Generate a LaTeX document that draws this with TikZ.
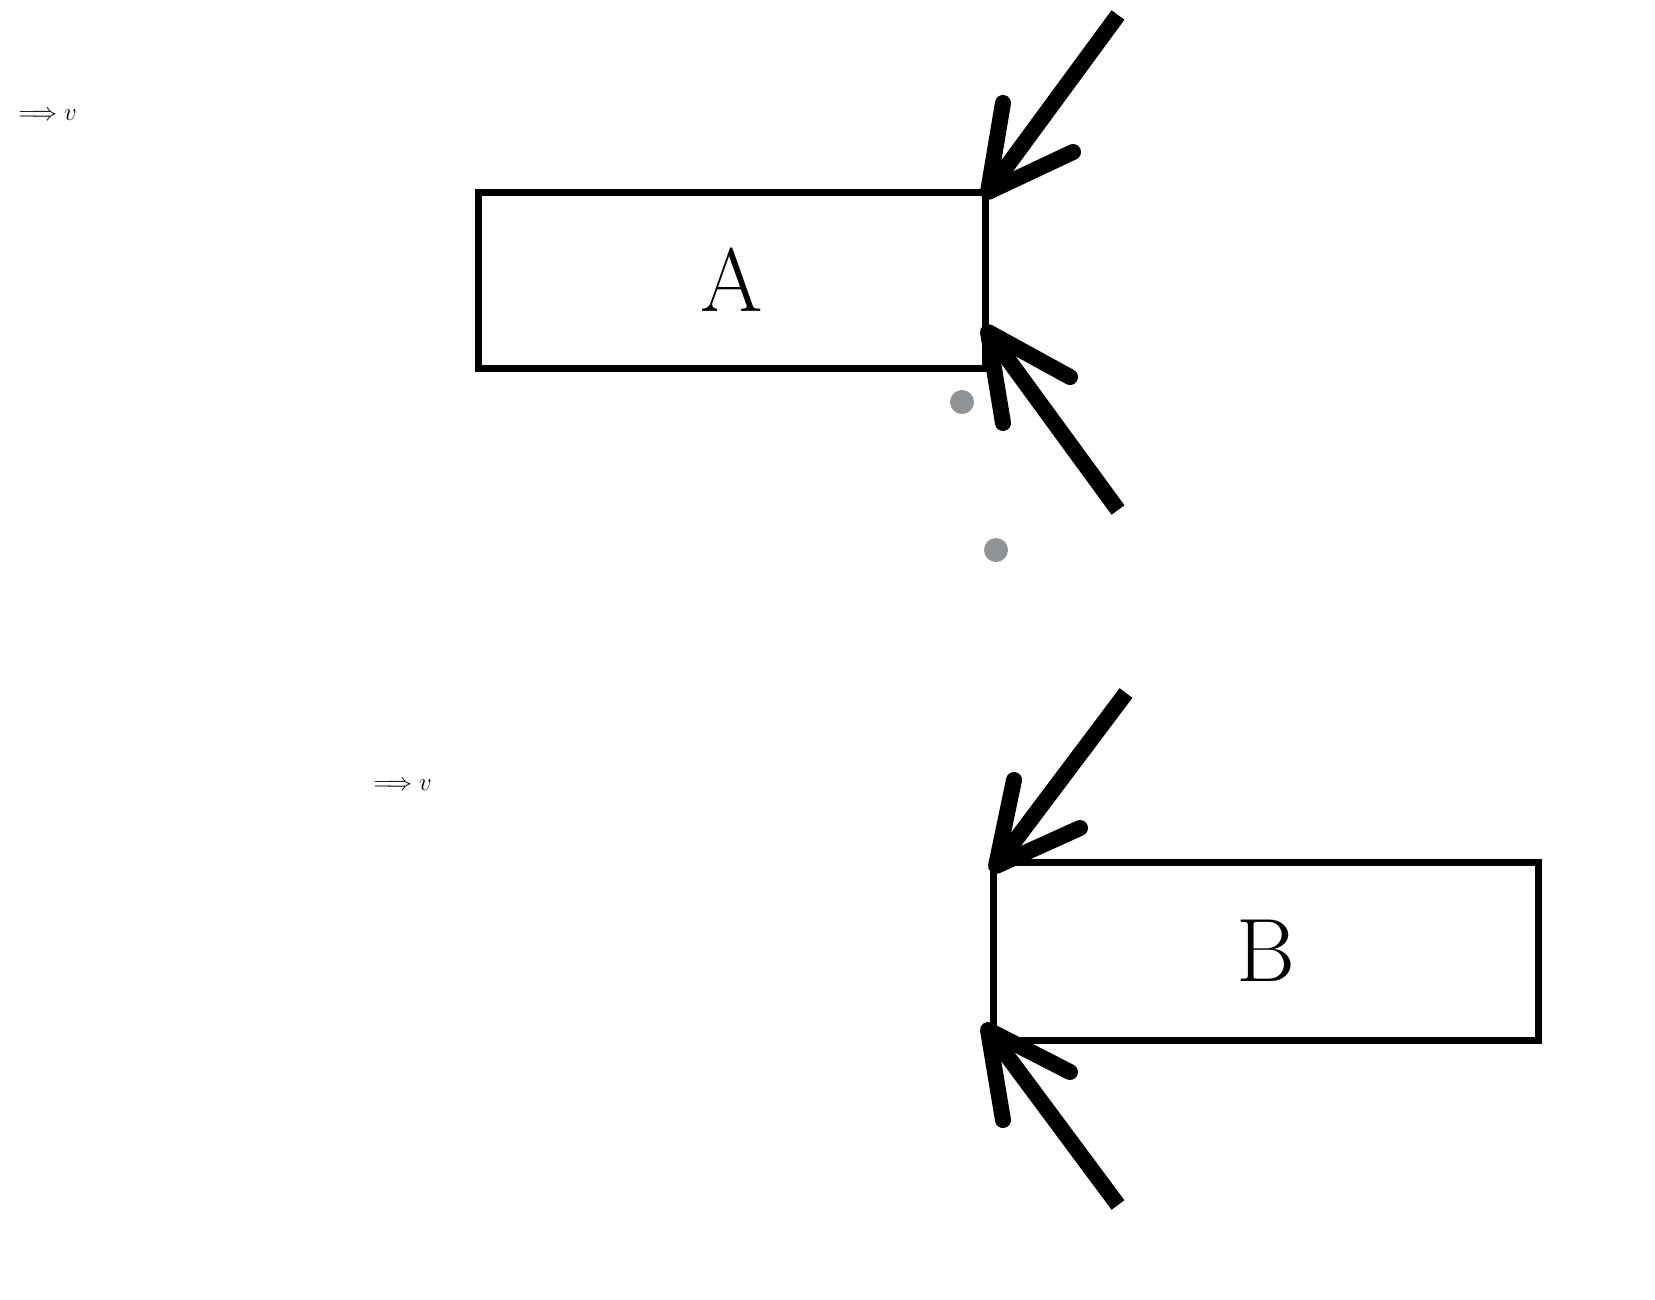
\documentclass[tikz,border=0pt]{standalone}
\usetikzlibrary{calc}
\begin{document}
\begin{tikzpicture}[x=1pt,y=-1pt,
 box/.style={draw,line width=7pt,inner sep=0,font=\fontsize{90}{100}\selectfont},
 shaft/.style={line width=16pt},
 head/.style={line width=16pt,line cap=round,line join=round},
 lbl/.style={font=\fontsize{80}{96}\selectfont,anchor=west}]
\useasboundingbox (0,0) rectangle (1655,1299);
\node[box,minimum width=507pt,minimum height=176pt] (A) at (731.5,280) {A};
\node[box,minimum width=545pt,minimum height=178pt] (B) at (1265.5,951) {B};
\node[lbl] (l1) at (15,115) {$\Longrightarrow v$};
\node[lbl] (l2) at (370,785) {$\Longrightarrow v$};
\fill[gray!80!cyan!30!gray] (962,402) circle (12);
\fill[gray!80!cyan!30!gray] (996,550) circle (12);
% arrows
\coordinate (s1) at (1118,15); \coordinate (t1) at (988,192);
\coordinate (s2) at (1118,510); \coordinate (t2) at (988,332);
\coordinate (s3) at (1126,693); \coordinate (t3) at (996,866);
\coordinate (s4) at (1118,1205); \coordinate (t4) at (988,1030);
\draw[shaft] (s1) -- ($(t1)!0.06!(s1)$);
\draw[head] (1003,103) -- (t1) -- (1073,152);
\draw[shaft] (s2) -- ($(t2)!0.06!(s2)$);
\draw[head] (1003,423) -- (t2) -- (1070,377);
\draw[shaft] (s3) -- ($(t3)!0.06!(s3)$);
\draw[head] (1014,780) -- (t3) -- (1080,828);
\draw[shaft] (s4) -- ($(t4)!0.06!(s4)$);
\draw[head] (1003,1120) -- (t4) -- (1070,1072);
\end{tikzpicture}
\end{document}
